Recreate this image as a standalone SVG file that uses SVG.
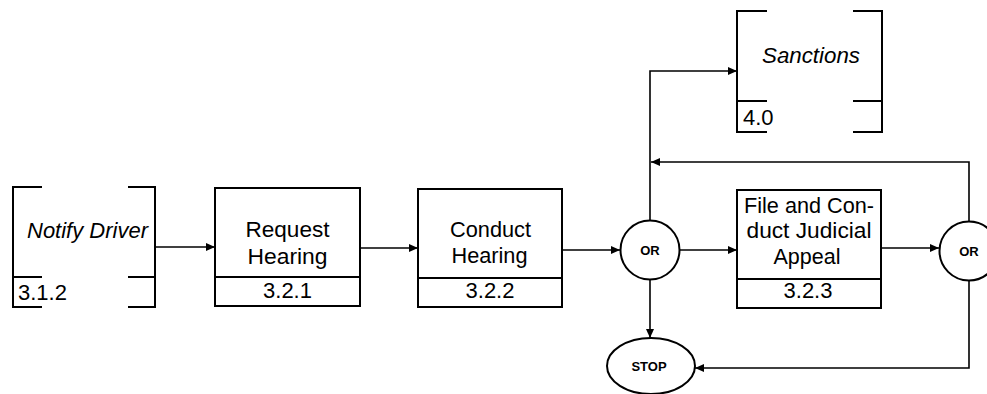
<svg xmlns="http://www.w3.org/2000/svg" width="987" height="394" viewBox="0 0 987 394">
<style>
.box{fill:#fff;stroke:#000;stroke-width:2}
.ln{fill:none;stroke:#000;stroke-width:2}
.con{fill:none;stroke:#000;stroke-width:1.6}
.t{font-family:"Liberation Sans",Arial,sans-serif;font-size:22px;fill:#000;text-anchor:middle}
.it{font-style:italic}
.s{font-family:"Liberation Sans",Arial,sans-serif;font-weight:bold;fill:#000;text-anchor:middle}
</style>
<defs>
<marker id="ah" markerWidth="10" markerHeight="8" refX="9" refY="4" orient="auto" markerUnits="userSpaceOnUse">
<path d="M0,0 L9,4 L0,8 Z" fill="#000"/>
</marker>
</defs>
<rect width="987" height="394" fill="#fff"/>

<g id="connectors">
<line class="con" x1="155" y1="247" x2="215" y2="247" marker-end="url(#ah)"/>
<line class="con" x1="360" y1="248" x2="418" y2="248" marker-end="url(#ah)"/>
<line class="con" x1="562" y1="250" x2="620" y2="250" marker-end="url(#ah)"/>
<line class="con" x1="680" y1="250" x2="737" y2="250" marker-end="url(#ah)"/>
<line class="con" x1="881" y1="248" x2="939" y2="248" marker-end="url(#ah)"/>
<polyline class="con" points="650,220 650,71 737,71" marker-end="url(#ah)"/>
<polyline class="con" points="969,221 969,162 651,162" marker-end="url(#ah)"/>
<line class="con" x1="650" y1="280" x2="650" y2="338" marker-end="url(#ah)"/>
<polyline class="con" points="969,281 969,368 695,368" marker-end="url(#ah)"/>
</g>

<g id="notify-driver">
<path class="ln" d="M42,187 H13 V307 H42 M13,277 H42 M128,187 H155 V307 H128 M128,277 H155"/>
<text class="t it" x="87.5" y="238" textLength="121" lengthAdjust="spacingAndGlyphs">Notify Driver</text>
<text class="t" x="18" y="300" style="text-anchor:start">3.1.2</text>
</g>

<g id="request-hearing">
<rect class="box" x="215" y="188" width="145" height="118"/>
<line class="ln" x1="215" y1="277" x2="360" y2="277"/>
<text class="t" x="287.5" y="237" textLength="84" lengthAdjust="spacingAndGlyphs">Request</text>
<text class="t" x="287.5" y="264" textLength="80" lengthAdjust="spacingAndGlyphs">Hearing</text>
<text class="t" x="287.5" y="298">3.2.1</text>
</g>

<g id="conduct-hearing">
<rect class="box" x="418" y="189" width="144" height="118"/>
<line class="ln" x1="418" y1="278" x2="562" y2="278"/>
<text class="t" x="490.5" y="237" textLength="81" lengthAdjust="spacingAndGlyphs">Conduct</text>
<text class="t" x="489.5" y="263" textLength="76" lengthAdjust="spacingAndGlyphs">Hearing</text>
<text class="t" x="490" y="298">3.2.2</text>
</g>

<g id="or1">
<circle class="box" cx="650" cy="250" r="29.5"/>
<text class="s" x="650" y="254.5" font-size="13">OR</text>
</g>

<g id="file-appeal">
<rect class="box" x="737" y="190" width="144" height="118"/>
<line class="ln" x1="737" y1="279" x2="881" y2="279"/>
<text class="t" x="809" y="213" textLength="130" lengthAdjust="spacingAndGlyphs">File and Con-</text>
<text class="t" x="809" y="238" textLength="125" lengthAdjust="spacingAndGlyphs">duct Judicial</text>
<text class="t" x="807" y="264" textLength="67" lengthAdjust="spacingAndGlyphs">Appeal</text>
<text class="t" x="808" y="298">3.2.3</text>
</g>

<g id="or2">
<circle class="box" cx="969" cy="251" r="29.5"/>
<text class="s" x="969" y="255.5" font-size="13">OR</text>
</g>

<g id="sanctions">
<path class="ln" d="M767,11 H737 V132 H767 M737,101 H767 M853,11 H882 V132 H853 M853,101 H882"/>
<text class="t it" x="811" y="63" textLength="98" lengthAdjust="spacingAndGlyphs">Sanctions</text>
<text class="t" x="743" y="125" style="text-anchor:start">4.0</text>
</g>

<g id="stop">
<ellipse class="box" cx="651" cy="366" rx="44" ry="28"/>
<text class="s" x="649" y="371" font-size="13">STOP</text>
</g>
</svg>
